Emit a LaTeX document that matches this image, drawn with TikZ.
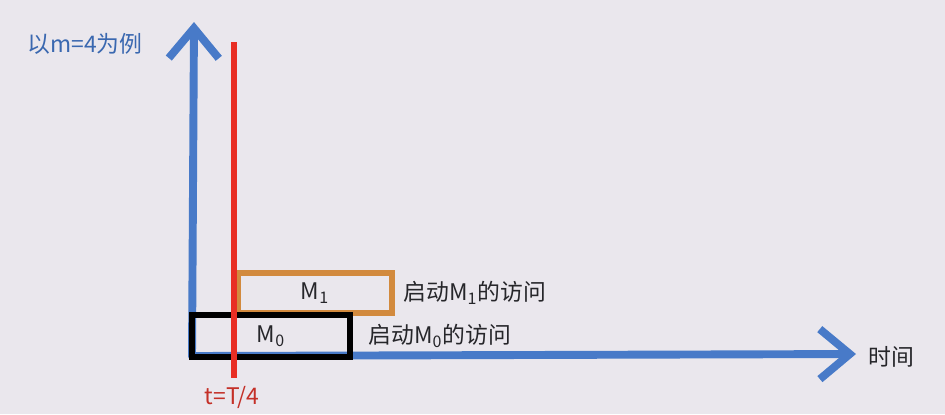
\documentclass[tikz,border=0pt]{standalone}
\usepackage{fontspec}
\setmainfont{Noto Sans CJK SC}
\usepackage{tikz}
\usetikzlibrary{positioning}
\usetikzlibrary{arrows.meta}
\definecolor{bgcol}{RGB}{234,231,237}
\definecolor{axisblue}{RGB}{72,122,200}
\definecolor{redline}{RGB}{232,46,36}
\definecolor{tred}{RGB}{196,48,40}
\definecolor{boxorange}{RGB}{210,138,62}
\definecolor{labelblue}{RGB}{58,104,176}
\definecolor{textdark}{RGB}{38,38,42}
\tikzstyle{axis}=[draw=axisblue,line width=4.5pt,line cap=round,line join=round,-{Straight Barb[length=0.6cm,width=1cm,line width=4.5pt]}]
\tikzstyle{markline}=[draw=redline,line width=3.5pt]
\tikzstyle{membox}=[rectangle,draw,line width=3.5pt,inner sep=0pt,font=\fontsize{13}{15}\selectfont,text=textdark]
\tikzstyle{note}=[font=\fontsize{13}{15}\selectfont,text=textdark,inner sep=0pt]

\begin{document}
\begin{tikzpicture}[x=0.02cm,y=-0.02cm]

  \fill[bgcol] (0,0) rectangle (945,414);
  \useasboundingbox (0,0) rectangle (945,414);

  % axes
  \coordinate (origin) at (192,356);
  \coordinate (ytip) at (194,22);
  \coordinate (xtip) at (856,354);
  \path[axis] (origin) -- (ytip);
  \path[axis] (origin) -- (xtip);

  \node[note,anchor=west] (time) at (868,357) {时间};
  \node[note,anchor=west,text=labelblue] (case) at (27,44) {以m=4为例};

  % accesses
  \node[membox,draw=boxorange,minimum width=3.08cm,minimum height=0.8cm] (M1) at (315,293) {M\textsubscript{1}};
  \node[membox,draw=black,minimum width=3.16cm,minimum height=0.84cm] (M0) at (271,336) {M\textsubscript{0}};

  \node[note,right=0.16cm of M1] (startM1) {启动M\textsubscript{1}的访问};
  \node[note,right=0.3cm of M0] (startM0) {启动M\textsubscript{0}的访问};

  % t = T/4
  \coordinate (redtop) at (234,42);
  \coordinate (redbot) at (234,378);
  \path[markline] (redtop) -- (redbot);
  \node[note,text=tred] (tlabel) at (232,397) {t=T/4};

\end{tikzpicture}
\end{document}
